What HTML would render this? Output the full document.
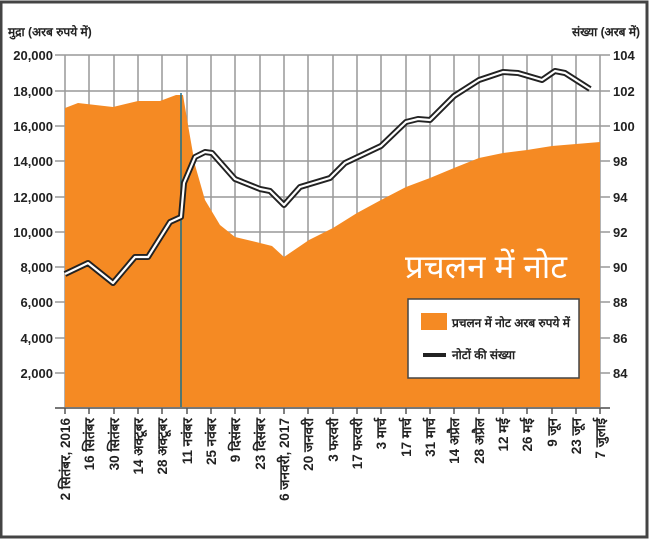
<!DOCTYPE html>
<html><head><meta charset="utf-8"><style>
body{margin:0;background:#fff;}
svg{display:block;font-family:"Liberation Sans Narrow","Liberation Sans",sans-serif;font-weight:bold;}
</style></head><body>
<svg width="650" height="540" viewBox="0 0 650 540">
<rect x="0" y="0" width="650" height="540" fill="#fff"/>
<rect x="1" y="2" width="646" height="535" fill="none" stroke="#444" stroke-width="3"/>
<text x="8" y="36" font-size="12" fill="#222">मुद्रा (अरब रुपये में)</text>
<text x="640" y="36" font-size="12" fill="#222" text-anchor="end">संख्या (अरब में)</text>
<g stroke="#999" stroke-width="1.5">
<line x1="55" y1="55" x2="610" y2="55"/><line x1="55" y1="91" x2="610" y2="91"/><line x1="55" y1="126" x2="610" y2="126"/><line x1="55" y1="161" x2="610" y2="161"/><line x1="55" y1="197" x2="610" y2="197"/><line x1="55" y1="232" x2="610" y2="232"/><line x1="55" y1="267" x2="610" y2="267"/><line x1="55" y1="302" x2="610" y2="302"/><line x1="55" y1="338" x2="610" y2="338"/><line x1="55" y1="373" x2="610" y2="373"/>
<line x1="65" y1="55" x2="65" y2="408"/><line x1="89" y1="55" x2="89" y2="408"/><line x1="114" y1="55" x2="114" y2="408"/><line x1="138" y1="55" x2="138" y2="408"/><line x1="162" y1="55" x2="162" y2="408"/><line x1="187" y1="55" x2="187" y2="408"/><line x1="211" y1="55" x2="211" y2="408"/><line x1="235" y1="55" x2="235" y2="408"/><line x1="260" y1="55" x2="260" y2="408"/><line x1="284" y1="55" x2="284" y2="408"/><line x1="308" y1="55" x2="308" y2="408"/><line x1="333" y1="55" x2="333" y2="408"/><line x1="357" y1="55" x2="357" y2="408"/><line x1="381" y1="55" x2="381" y2="408"/><line x1="406" y1="55" x2="406" y2="408"/><line x1="430" y1="55" x2="430" y2="408"/><line x1="454" y1="55" x2="454" y2="408"/><line x1="479" y1="55" x2="479" y2="408"/><line x1="503" y1="55" x2="503" y2="408"/><line x1="527" y1="55" x2="527" y2="408"/><line x1="552" y1="55" x2="552" y2="408"/><line x1="576" y1="55" x2="576" y2="408"/><line x1="600" y1="55" x2="600" y2="408"/>
</g>
<path d="M65,408 L65,108 L78,103 L113,107 L138,101 L160,101 L176,95 L183,95 L188,125 L195,165 L205,200 L220,225 L235,237 L260,243 L272,246 L284,257 L309,240 L333,228 L357,213 L381,200 L406,187 L430,178 L454,168 L479,158 L503,153 L527,150 L552,146 L576,144 L600,142 L600,408 Z" fill="#f58a23"/>
<line x1="181" y1="93" x2="181" y2="408" stroke="#1d6f8a" stroke-width="1.5"/>
<line x1="55" y1="408" x2="610" y2="408" stroke="#777" stroke-width="2"/>
<g fill="none" stroke-linejoin="round">
<path d="M65,274 L88,263 L113,283 L135,257 L148,257 L170,222 L181,217 L184,183 L195,157 L205,152 L212,153 L235,179 L260,189 L270,191 L284,205 L300,187 L330,178 L345,163 L381,146 L406,122 L418,119 L430,120 L454,96 L479,80 L503,72 L518,73 L542,80 L555,71 L565,73 L590,89" stroke="#222" stroke-width="6"/>
<path d="M65,274 L88,263 L113,283 L135,257 L148,257 L170,222 L181,217 L184,183 L195,157 L205,152 L212,153 L235,179 L260,189 L270,191 L284,205 L300,187 L330,178 L345,163 L381,146 L406,122 L418,119 L430,120 L454,96 L479,80 L503,72 L518,73 L542,80 L555,71 L565,73 L590,89" stroke="#fff" stroke-width="2.2"/>
</g>
<g font-size="13" fill="#222" text-anchor="end">
<text x="53" y="60">20,000</text><text x="53" y="96">18,000</text><text x="53" y="131">16,000</text><text x="53" y="166">14,000</text><text x="53" y="202">12,000</text><text x="53" y="237">10,000</text><text x="53" y="272">8,000</text><text x="53" y="307">6,000</text><text x="53" y="343">4,000</text><text x="53" y="378">2,000</text>
</g>
<g font-size="13" fill="#222">
<text x="613" y="60">104</text><text x="613" y="96">102</text><text x="613" y="131">100</text><text x="613" y="166">98</text><text x="613" y="202">94</text><text x="613" y="237">92</text><text x="613" y="272">90</text><text x="613" y="307">88</text><text x="613" y="343">86</text><text x="613" y="378">84</text>
</g>
<text x="405" y="278" font-size="33" fill="#fff" font-weight="normal">प्रचलन में नोट</text>
<rect x="408" y="299" width="171" height="79" fill="#fff" stroke="#444" stroke-width="1.5"/>
<rect x="421" y="313" width="26" height="17" fill="#f58a23"/>
<text x="452" y="327" font-size="12" fill="#222">प्रचलन में नोट अरब रुपये में</text>
<line x1="423" y1="355" x2="446" y2="355" stroke="#222" stroke-width="4"/>
<text x="452" y="359" font-size="12" fill="#222">नोटों की संख्या</text>
<g stroke="#555" stroke-width="1.5">
<line x1="65" y1="408" x2="65" y2="414"/><line x1="89" y1="408" x2="89" y2="414"/><line x1="114" y1="408" x2="114" y2="414"/><line x1="138" y1="408" x2="138" y2="414"/><line x1="162" y1="408" x2="162" y2="414"/><line x1="187" y1="408" x2="187" y2="414"/><line x1="211" y1="408" x2="211" y2="414"/><line x1="235" y1="408" x2="235" y2="414"/><line x1="260" y1="408" x2="260" y2="414"/><line x1="284" y1="408" x2="284" y2="414"/><line x1="308" y1="408" x2="308" y2="414"/><line x1="333" y1="408" x2="333" y2="414"/><line x1="357" y1="408" x2="357" y2="414"/><line x1="381" y1="408" x2="381" y2="414"/><line x1="406" y1="408" x2="406" y2="414"/><line x1="430" y1="408" x2="430" y2="414"/><line x1="454" y1="408" x2="454" y2="414"/><line x1="479" y1="408" x2="479" y2="414"/><line x1="503" y1="408" x2="503" y2="414"/><line x1="527" y1="408" x2="527" y2="414"/><line x1="552" y1="408" x2="552" y2="414"/><line x1="576" y1="408" x2="576" y2="414"/><line x1="600" y1="408" x2="600" y2="414"/>
</g>
<g font-size="13.5" fill="#222" text-anchor="end">
<text transform="translate(70,418) rotate(-90)">2 सितंबर, 2016</text>
<text transform="translate(94,418) rotate(-90)">16 सितंबर</text>
<text transform="translate(119,418) rotate(-90)">30 सितंबर</text>
<text transform="translate(143,418) rotate(-90)">14 अक्टूबर</text>
<text transform="translate(167,418) rotate(-90)">28 अक्टूबर</text>
<text transform="translate(192,418) rotate(-90)">11 नवंबर</text>
<text transform="translate(216,418) rotate(-90)">25 नवंबर</text>
<text transform="translate(240,418) rotate(-90)">9 दिसंबर</text>
<text transform="translate(265,418) rotate(-90)">23 दिसंबर</text>
<text transform="translate(289,418) rotate(-90)">6 जनवरी, 2017</text>
<text transform="translate(313,418) rotate(-90)">20 जनवरी</text>
<text transform="translate(338,418) rotate(-90)">3 फरवरी</text>
<text transform="translate(362,418) rotate(-90)">17 फरवरी</text>
<text transform="translate(386,418) rotate(-90)">3 मार्च</text>
<text transform="translate(411,418) rotate(-90)">17 मार्च</text>
<text transform="translate(435,418) rotate(-90)">31 मार्च</text>
<text transform="translate(459,418) rotate(-90)">14 अप्रैल</text>
<text transform="translate(484,418) rotate(-90)">28 अप्रैल</text>
<text transform="translate(508,418) rotate(-90)">12 मई</text>
<text transform="translate(532,418) rotate(-90)">26 मई</text>
<text transform="translate(557,418) rotate(-90)">9 जून</text>
<text transform="translate(581,418) rotate(-90)">23 जून</text>
<text transform="translate(605,418) rotate(-90)">7 जुलाई</text>
</g>
</svg>
</body></html>
